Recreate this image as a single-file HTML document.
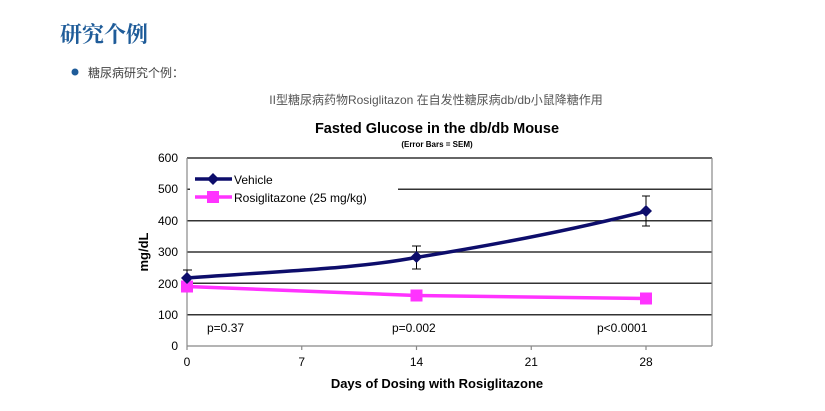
<!DOCTYPE html>
<html><head><meta charset="utf-8"><style>
body{margin:0;width:825px;height:411px;background:#fff;overflow:hidden;font-family:"Liberation Sans","Noto Sans CJK SC",sans-serif;}
</style></head><body>
<svg width="825" height="411" xmlns="http://www.w3.org/2000/svg" style="position:absolute;left:0;top:0">
<text x="60" y="42" font-family="Noto Serif CJK SC, serif" font-size="22" fill="#1f5c99" font-weight="bold">研究个例</text>
<circle cx="75" cy="72" r="3.5" fill="#1f5c99"/>
<text x="88" y="77" font-size="12" fill="#444" font-family="Liberation Sans, Noto Sans CJK SC, sans-serif">糖尿病研究个例：</text>
<text x="436" y="104" font-size="12" fill="#555" text-anchor="middle" font-family="Liberation Sans, Noto Sans CJK SC, sans-serif">II型糖尿病药物Rosiglitazon 在自发性糖尿病db/db小鼠降糖作用</text>
<text x="437" y="133" font-size="14.5" font-weight="bold" text-anchor="middle" fill="#000">Fasted Glucose in the db/db Mouse</text>
<text x="437" y="147" font-size="8" font-weight="bold" text-anchor="middle" fill="#000">(Error Bars = SEM)</text>
<g stroke="#333" stroke-width="1.5">
<line x1="187" y1="158" x2="712" y2="158"/>
<line x1="187" y1="189.3" x2="712" y2="189.3"/>
<line x1="187" y1="220.7" x2="712" y2="220.7"/>
<line x1="187" y1="252" x2="712" y2="252"/>
<line x1="187" y1="283.3" x2="712" y2="283.3"/>
<line x1="187" y1="314.7" x2="712" y2="314.7"/>
</g>
<rect x="190" y="165" width="208" height="42" fill="#fff"/>
<g stroke="#888" stroke-width="1.2">
<line x1="187" y1="158" x2="187" y2="346"/>
<line x1="187" y1="346" x2="712" y2="346"/>
<line x1="712" y1="158" x2="712" y2="346"/>
<line x1="301.75" y1="346" x2="301.75" y2="350"/>
<line x1="416.5" y1="346" x2="416.5" y2="350"/>
<line x1="531.25" y1="346" x2="531.25" y2="350"/>
<line x1="646" y1="346" x2="646" y2="350"/>
<line x1="187" y1="346" x2="187" y2="350"/>
</g>
<g font-size="12" fill="#000" text-anchor="end">
<text x="178" y="162">600</text><text x="178" y="193">500</text><text x="178" y="225">400</text>
<text x="178" y="256">300</text><text x="178" y="288">200</text><text x="178" y="319">100</text><text x="178" y="350">0</text>
</g>
<g font-size="12" fill="#000" text-anchor="middle">
<text x="187" y="366">0</text><text x="301.75" y="366">7</text><text x="416.5" y="366">14</text><text x="531.25" y="366">21</text><text x="646" y="366">28</text>
</g>
<text x="437" y="388" font-size="13" font-weight="bold" text-anchor="middle">Days of Dosing with Rosiglitazone</text>
<text transform="translate(148,252) rotate(-90)" font-size="13" font-weight="bold" text-anchor="middle">mg/dL</text>
<g font-size="12"><text x="207" y="332">p=0.37</text><text x="392" y="332">p=0.002</text><text x="597" y="332">p&lt;0.0001</text></g>
<g stroke="#000" stroke-width="1">
<line x1="187" y1="270" x2="187" y2="287"/><line x1="183" y1="270" x2="192" y2="270"/>
<line x1="416.5" y1="246" x2="416.5" y2="269"/><line x1="412" y1="246" x2="421" y2="246"/><line x1="412" y1="269" x2="421" y2="269"/>
<line x1="646" y1="196" x2="646" y2="226"/><line x1="642" y1="196" x2="650" y2="196"/><line x1="642" y1="226" x2="650" y2="226"/>
</g>
<polyline points="187,286.5 416.5,295.5 646,298.5" fill="none" stroke="#ff33ff" stroke-width="3.5"/>
<g fill="#ff33ff"><rect x="181" y="280.5" width="12" height="12"/><rect x="410.5" y="289.5" width="12" height="12"/><rect x="640" y="292.5" width="12" height="12"/></g>
<path d="M187,278 C300,270 360,268 416.5,257.4 C500,244 580,228 646,211.3" fill="none" stroke="#0d0d6b" stroke-width="3.5"/>
<g fill="#0d0d6b"><path d="M187,272 l6,6 -6,6 -6,-6z"/><path d="M416.5,251 l6,6 -6,6 -6,-6z"/><path d="M646,205 l6,6 -6,6 -6,-6z"/></g>
<line x1="195" y1="179" x2="232" y2="179" stroke="#0d0d6b" stroke-width="3.5"/>
<path d="M213,173 l6,6 -6,6 -6,-6z" fill="#0d0d6b"/>
<text x="234" y="184" font-size="12">Vehicle</text>
<line x1="195" y1="197" x2="232" y2="197" stroke="#ff33ff" stroke-width="3.5"/>
<rect x="207" y="191" width="12" height="12" fill="#ff33ff"/>
<text x="234" y="202" font-size="12">Rosiglitazone (25 mg/kg)</text>
</svg>
</body></html>
